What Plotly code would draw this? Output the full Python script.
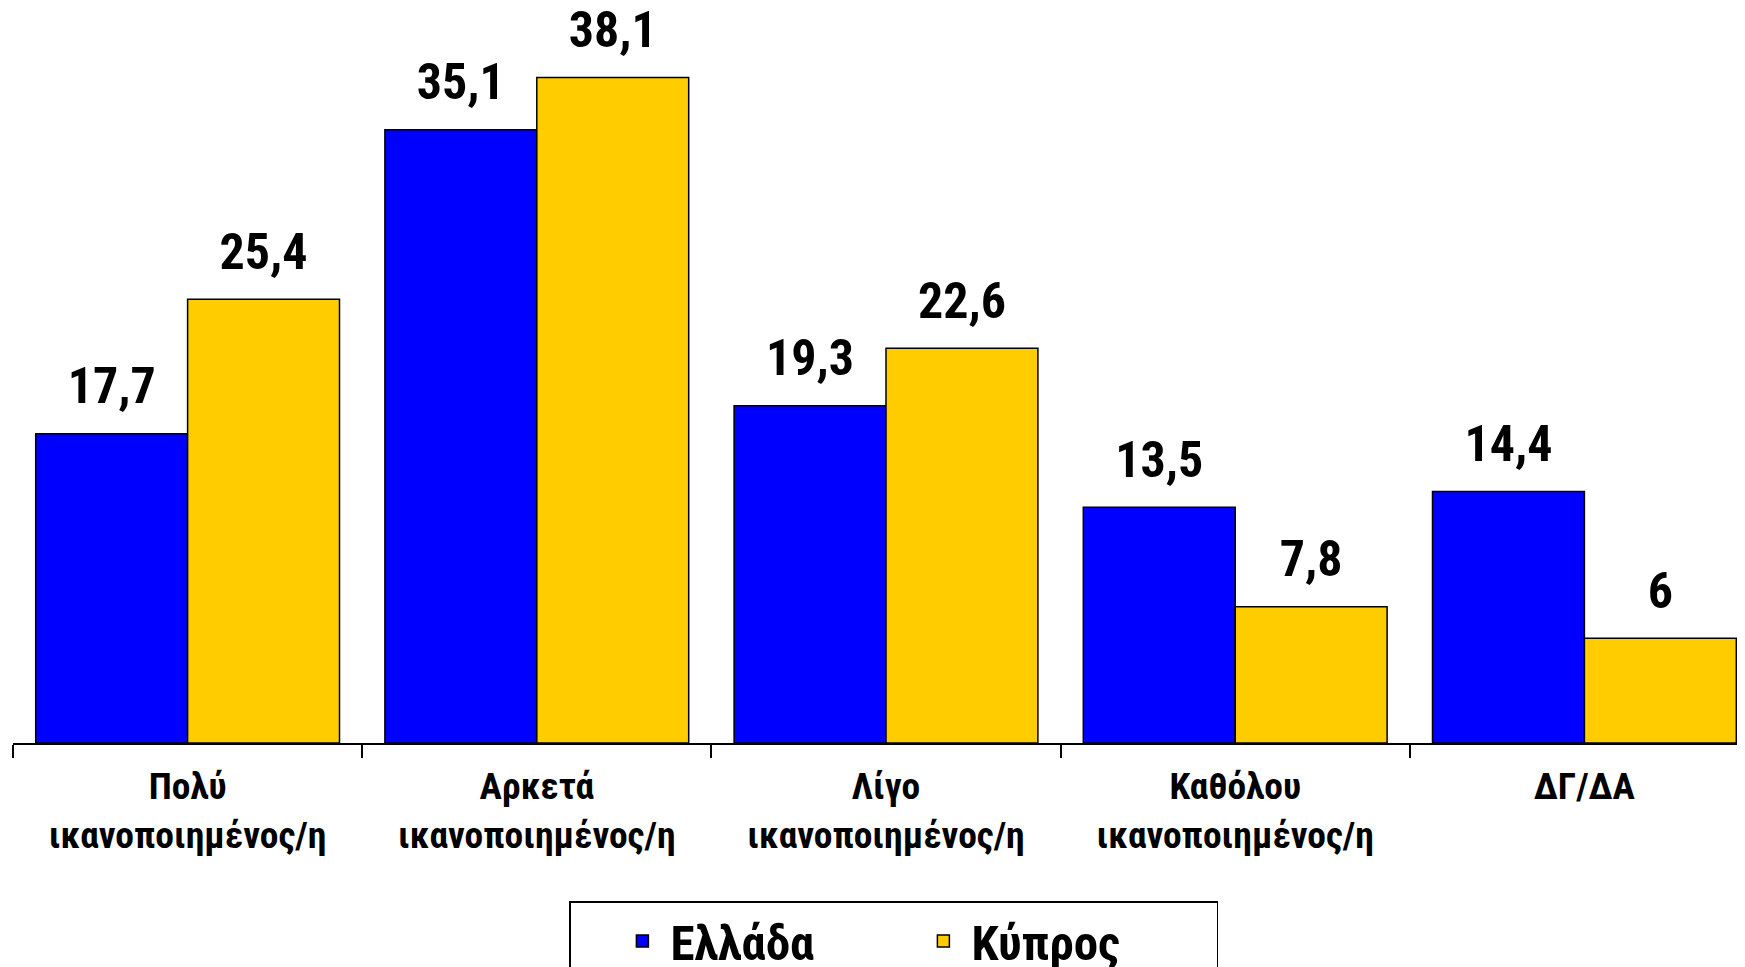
import plotly.graph_objects as go

categories = ["Πολύ<br>ικανοποιημένος/η", "Αρκετά<br>ικανοποιημένος/η", "Λίγο<br>ικανοποιημένος/η",
              "Καθόλου<br>ικανοποιημένος/η", "ΔΓ/ΔΑ"]
series_names = ["Ελλάδα", "Κύπρος"]
greece = [17.7, 35.1, 19.3, 13.5, 14.4]
cyprus = [25.4, 38.1, 22.6, 7.8, 6]
colors = ["#0000FF", "#FFCC00"]

FONT = "Roboto Condensed, Arial Narrow, Liberation Sans, Arial, sans-serif"
xs = list(range(len(categories)))
bounds = [i - 0.5 for i in range(len(categories) + 1)]


def fmt(v):
    return f"{v:g}".replace(".", ",")


fig = go.Figure()
for name, vals, col in zip(series_names, [greece, cyprus], colors):
    fig.add_trace(go.Bar(
        x=xs, y=vals, name=name, offsetgroup=name,
        marker=dict(color=col, line=dict(color="black", width=1.5)),
    ))
for name, vals in zip(series_names, [greece, cyprus]):
    fig.add_trace(go.Scatter(
        x=xs, y=vals, offsetgroup=name, mode="markers+text", showlegend=False,
        text=[fmt(v) for v in vals], textposition="top center",
        marker=dict(size=27, opacity=0), cliponaxis=False, hoverinfo="skip",
        textfont=dict(family=FONT, size=50, color="black", weight="bold"),
    ))

fig.update_layout(
    width=1745, height=967,
    margin=dict(l=5, r=0, t=2, b=232, autoexpand=False),
    paper_bgcolor="white", plot_bgcolor="white",
    barmode="group", bargap=0.13, bargroupgap=0,
    scattermode="group", scattergap=0.13,
    font=dict(family=FONT, color="black"),
    showlegend=True,
    legend=dict(
        orientation="h", x=(561 - 5) / 1740, xanchor="left", y=-0.2156, yanchor="top",
        font=dict(family=FONT, size=49, color="black", weight="bold"),
        bordercolor="black", borderwidth=1.5, bgcolor="white",
        entrywidth=240, itemwidth=46, traceorder="normal",
        title=dict(text="\u00a0\u00a0\u00a0", side="left", font=dict(family=FONT, size=49)),
    ),
    xaxis=dict(
        range=[-0.5, -0.5 + 1740 / 349.2], tickmode="array", tickvals=xs, ticktext=categories,
        ticks="", showline=True, linecolor="black", linewidth=1.5, showgrid=False, zeroline=False,
        tickfont=dict(family=FONT, size=37.5, color="black", weight="bold"),
        ticklabelstandoff=9,
        minor=dict(tickmode="array", tickvals=bounds, ticks="outside", ticklen=13,
                   tickcolor="black", tickwidth=1.5, showgrid=False),
    ),
    yaxis=dict(range=[0, 41.96], showgrid=False, showticklabels=False, zeroline=False, showline=False),
)
fig.write_html("out.html")
